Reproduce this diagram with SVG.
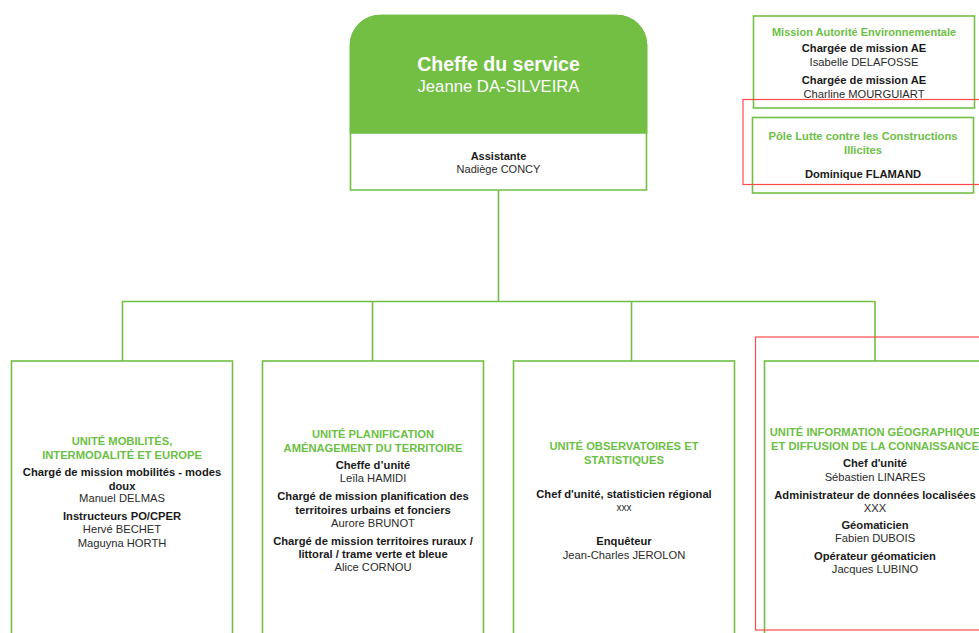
<svg xmlns="http://www.w3.org/2000/svg" width="979" height="633" viewBox="0 0 979 633">
<style>
text{font-family:"Liberation Sans",Arial,sans-serif;text-anchor:middle;fill:#1a1a1a}
.box{fill:#fff;stroke:#72bf44;stroke-width:1.6}
.red{fill:none;stroke:#ff4a4a;stroke-width:1.2}
.con{fill:none;stroke:#72bf44;stroke-width:1.6}
.h{font-weight:bold;font-size:11.2px;fill:#6cbf45}
.r{font-weight:bold;font-size:11.2px}
.n{font-size:11.2px;fill:#2a2a2a}
</style>
<rect width="979" height="633" fill="#fff"/>
<g id="connectors">
<path class="con" d="M498.5,190 V301.5 M122.5,361 V301.5 H875 V361 M372.5,301.5 V361 M631.5,301.5 V361"/>
</g>
<g id="chef">
<path d="M350.5,190 V45 A30,30 0 0 1 380.5,15.5 H616.5 A30,30 0 0 1 646.5,45 V190 Z" fill="#fff" stroke="#72bf44" stroke-width="1.6"/>
<path d="M350.5,133 V45 A30,30 0 0 1 380.5,15.5 H616.5 A30,30 0 0 1 646.5,45 V133 Z" fill="#72bf44" stroke="#72bf44" stroke-width="1.6"/>
<text x="498.5" y="71" style="font-weight:bold;font-size:19.5px;fill:#fff">Cheffe du service</text>
<text x="498.5" y="92" style="font-size:16.7px;fill:#fff">Jeanne DA-SILVEIRA</text>
<text class="r" x="498.5" y="160" style="font-size:11px">Assistante</text>
<text class="n" x="498.5" y="173" style="font-size:11px">Nadiège CONCY</text>
</g>
<g id="mission-ae">
<rect class="box" x="753.5" y="16" width="221" height="92"/>
<text class="h" x="864" y="36" style="font-size:11px">Mission Autorité Environnementale</text>
<text class="r" x="864" y="52">Chargée de mission AE</text>
<text class="n" x="864" y="66">Isabelle DELAFOSSE</text>
<text class="r" x="864" y="84">Chargée de mission AE</text>
<text class="n" x="864" y="98">Charline MOURGUIART</text>
</g>
<g id="pole-lci">
<rect class="box" x="752.5" y="117.5" width="221" height="75.5"/>
<text class="h" x="863" y="140">Pôle Lutte contre les Constructions</text>
<text class="h" x="863" y="154">Illicites</text>
<text class="r" x="863" y="178">Dominique FLAMAND</text>
<rect class="red" x="743" y="99.5" width="245" height="85"/>
</g>
<g id="unite-mobilites">
<rect class="box" x="11.5" y="361" width="221" height="290"/>
<text class="h" x="122" y="445">UNITÉ MOBILITÉS,</text>
<text class="h" x="122" y="459">INTERMODALITÉ ET EUROPE</text>
<text class="r" x="122" y="476">Chargé de mission mobilités - modes</text>
<text class="r" x="122" y="490">doux</text>
<text class="n" x="122" y="502">Manuel DELMAS</text>
<text class="r" x="122" y="520">Instructeurs PO/CPER</text>
<text class="n" x="122" y="533">Hervé BECHET</text>
<text class="n" x="122" y="547">Maguyna HORTH</text>
</g>
<g id="unite-planification">
<rect class="box" x="262.5" y="361" width="221" height="290"/>
<text class="h" x="373" y="438">UNITÉ PLANIFICATION</text>
<text class="h" x="373" y="452">AMÉNAGEMENT DU TERRITOIRE</text>
<text class="r" x="373" y="469">Cheffe d’unité</text>
<text class="n" x="373" y="482">Leïla HAMIDI</text>
<text class="r" x="373" y="500">Chargé de mission planification des</text>
<text class="r" x="373" y="514">territoires urbains et fonciers</text>
<text class="n" x="373" y="527">Aurore BRUNOT</text>
<text class="r" x="373" y="545">Chargé de mission territoires ruraux /</text>
<text class="r" x="373" y="558">littoral / trame verte et bleue</text>
<text class="n" x="373" y="571">Alice CORNOU</text>
</g>
<g id="unite-observatoires">
<rect class="box" x="513.5" y="361" width="221" height="290"/>
<text class="h" x="624" y="450">UNITÉ OBSERVATOIRES ET</text>
<text class="h" x="624" y="464">STATISTIQUES</text>
<text class="r" x="624" y="498">Chef d'unité, statisticien régional</text>
<text class="n" x="624" y="511" style="font-size:10px">xxx</text>
<text class="r" x="624" y="545">Enquêteur</text>
<text class="n" x="624" y="559">Jean-Charles JEROLON</text>
</g>
<g id="unite-information">
<rect class="box" x="764.5" y="361" width="221" height="290"/>
<text class="h" x="875" y="436">UNITÉ INFORMATION GÉOGRAPHIQUE</text>
<text class="h" x="875" y="450">ET DIFFUSION DE LA CONNAISSANCE</text>
<text class="r" x="875" y="467">Chef d'unité</text>
<text class="n" x="875" y="481">Sébastien LINARES</text>
<text class="r" x="875" y="499">Administrateur de données localisées</text>
<text class="n" x="875" y="512">XXX</text>
<text class="r" x="875" y="529">Géomaticien</text>
<text class="n" x="875" y="542">Fabien DUBOIS</text>
<text class="r" x="875" y="560">Opérateur géomaticien</text>
<text class="n" x="875" y="573">Jacques LUBINO</text>
<rect class="red" x="755.5" y="337" width="240" height="293"/>
</g>
</svg>
